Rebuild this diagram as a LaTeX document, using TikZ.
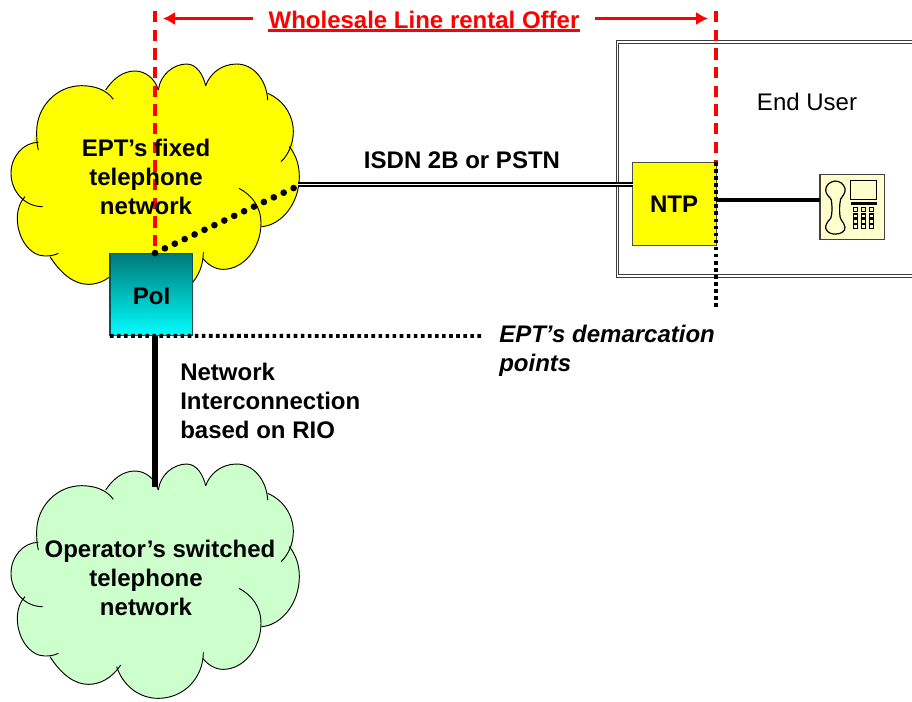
\documentclass[tikz,border=0pt]{standalone}
\usepackage{fontspec}
\setmainfont{Liberation Sans}
\usetikzlibrary{arrows.meta}
\tikzset{
  lbl/.style={font=\fontsize{18}{21.6}\selectfont\bfseries,align=center,inner sep=0pt,text=black},
  cloudline/.style={draw=black,line width=0.7pt,fill=none},
  reddash/.style={draw=red,line width=2.5pt,dash pattern=on 8.5pt off 5.5pt},
  redarrow/.style={draw=red,line width=2pt,-{Latex[length=9pt,width=10pt]}},
  blackdots/.style={draw=black,line width=2.9pt,dash pattern=on 2.7pt off 2.6pt},
  rounddots/.style={draw=black,line width=5pt,line cap=round,dash pattern=on 0pt off 8.2pt},
  keybtn/.style={draw=black,line width=.8pt,fill=phonebg},
}
\definecolor{cloudyellow}{RGB}{255,255,0}
\definecolor{cloudgreen}{RGB}{204,255,204}
\definecolor{phonebg}{RGB}{255,255,204}
\definecolor{poitop}{RGB}{0,120,120}
\definecolor{poibot}{RGB}{0,255,255}
\definecolor{boxline}{RGB}{60,60,60}
\newcommand{\cloudlobes}[1]{%
  \def\lobeA{(475,270) .. controls (480,225) and (520,192) .. (560,192) .. controls (590,192) and (610,225) .. (617,257)}%
  \def\lobeB{(617,257) .. controls (630,220) and (665,192) .. (710,192) .. controls (760,192) and (800,240) .. (803,300)}%
  \def\lobeC{(803,280) .. controls (850,300) and (880,345) .. (880,395) .. controls (880,430) and (865,465) .. (843,485)}%
  \def\lobeD{(868,440) .. controls (888,465) and (898,495) .. (898,530) .. controls (898,610) and (845,675) .. (785,680)}%
  \def\lobeE{(717,565) .. controls (755,585) and (783,620) .. (783,670) .. controls (783,745) and (730,808) .. (670,808) .. controls (645,808) and (625,795) .. (608,775)}%
  \def\lobeF{(610,757) .. controls (610,835) and (550,895) .. (475,895) .. controls (420,895) and (370,860) .. (350,800)}%
  \def\lobeG{(150,770) .. controls (185,825) and (225,853) .. (265,853) .. controls (300,853) and (335,835) .. (362,795)}%
  \def\lobeH{(175,760) .. controls (160,767) and (148,768) .. (135,768) .. controls (90,768) and (52,715) .. (52,655) .. controls (52,630) and (60,605) .. (75,590)}%
  \def\lobeI{(128,620) .. controls (75,620) and (33,575) .. (33,520) .. controls (33,470) and (70,427) .. (115,427)}%
  \def\lobeJ{(115,450) .. controls (110,430) and (110,410) .. (110,395) .. controls (110,320) and (170,257) .. (245,257) .. controls (285,257) and (320,270) .. (340,298)}%
  \def\lobeK{(317,270) .. controls (340,235) and (370,213) .. (405,213) .. controls (435,213) and (465,235) .. (475,270)}%
  \fill[#1] (475,270)--(617,257)--(803,290)--(875,395)--(888,530)--(785,680)--(717,690)--(610,770)--(350,800)--(150,770)--(60,650)--(80,592)--(55,520)--(112,395)--(245,270)--(317,270)--cycle;
  \foreach \lobe in {\lobeA,\lobeB,\lobeC,\lobeD,\lobeE,\lobeF,\lobeG,\lobeH,\lobeI,\lobeJ,\lobeK}{
    \fill[#1] \lobe -- cycle;
  }%
  \foreach \lobe in {\lobeA,\lobeB,\lobeC,\lobeD,\lobeE,\lobeF,\lobeG,\lobeH,\lobeI,\lobeJ,\lobeK}{
    \draw[cloudline] \lobe;
  }%
}
\begin{document}
\begin{tikzpicture}[x=0.75pt,y=-0.75pt]
\useasboundingbox (0,0) rectangle (912,701);
% clouds
\begin{scope}[x=0.25pt,y=-0.25pt]
  \cloudlobes{cloudyellow}
\end{scope}
\begin{scope}[x=0.25pt,y=-0.25pt,yshift=-300pt]
  \cloudlobes{cloudgreen}
\end{scope}
% end user box
\draw[draw=boxline,line width=0.7pt] (912,40)--(616,40)--(616,277)--(912,277);
\draw[draw=boxline,line width=0.7pt] (912,43)--(618.5,43)--(618.5,274.5)--(912,274.5);
% nodes
\node[draw=poitop!70!black,line width=.8pt,minimum width=62pt,minimum height=62pt,inner sep=0pt,outer sep=0pt,
  top color=poitop,bottom color=poibot,shading angle=0] (poi) at (151.3,294.5) {};
\node[lbl] (poitext) at (151.5,296) {PoI};
\node[draw=black!70,line width=.7pt,fill=cloudyellow,minimum width=62.6pt,minimum height=62.3pt,inner sep=0pt,outer sep=0pt] (ntp) at (674.3,203.5) {};
\node[lbl] (ntptext) at (674,204) {NTP};
\node[draw=black!75,line width=.8pt,fill=phonebg,minimum width=48.2pt,minimum height=48.2pt,inner sep=0pt,outer sep=0pt] (phone) at (852.1,207) {};
% phone glyph
\begin{scope}[x=0.25pt,y=-0.25pt,xshift=450pt]
  \draw[black,line width=.9pt] (705,543) .. controls (690,545) and (677,555) .. (677,570) .. controls (677,585) and (690,590) .. (694,600) .. controls (697,625) and (697,640) .. (692,655) .. controls (682,665) and (676,675) .. (677,685) .. controls (682,700) and (697,703) .. (708,702) .. controls (722,702) and (735,695) .. (735,682) .. controls (733,668) and (722,662) .. (720,650) .. controls (718,630) and (718,615) .. (722,597) .. controls (730,585) and (737,578) .. (735,565) .. controls (730,550) and (718,543) .. (705,543) -- cycle;
  \draw[black,line width=.9pt] (752,542) rectangle (829,598);
  \fill[black] (752,607) rectangle (830,615);
  \foreach \kx in {760,784,808}{
    \draw[keybtn] (\kx,622) rectangle ++(12,12);
    \draw[keybtn] (\kx,642) rectangle ++(12,12);
    \draw[keybtn] (\kx,658) rectangle ++(12,12);
    \draw[keybtn] (\kx,674) rectangle ++(12,12);
  }
\end{scope}
% coordinates
\coordinate (ldtop) at (155,11);
\coordinate (rdtop) at (716,11);
\coordinate (poitopc) at (155,253);
\coordinate (cloudexit) at (298,186);
\coordinate (dmv) at (716,310);
\coordinate (dmh) at (482,336);
\coordinate (poib) at (155,336);
\coordinate (opnet) at (155,487);
\coordinate (ntptop) at (716,162);
\coordinate (ntpr) at (716,200);
\coordinate (isdnl) at (298,184.5);
\coordinate (isdnr) at (632.5,184.5);
% connectors
\draw[reddash] (ldtop) -- (poitopc);
\draw[reddash] (rdtop) -- (ntptop);
\draw[rounddots] (poitopc) -- (cloudexit);
\draw[draw=black,line width=1.5pt,double=white,double distance=1.2pt] (isdnl) -- (isdnr);
\draw[draw=black,line width=2.4pt] (ntpr) -- (phone.west |- ntpr);
\draw[blackdots] (ntptop) -- (dmv);
\draw[blackdots] (poi.south west) -- (dmh);
\draw[draw=black,line width=4.8pt] (poib) -- (opnet);
% title
\node[lbl,text=red] (title) at (424,20) {Wholesale Line rental Offer};
\draw[draw=red,line width=2.4pt] (268,30.5) -- (580,30.5);
\coordinate (arrl) at (253,18.5);
\coordinate (arrr) at (595,18.5);
\coordinate (arrlt) at (163,18.5);
\coordinate (arrrt) at (708,18.5);
\draw[redarrow] (arrl) -- (arrlt);
\draw[redarrow] (arrr) -- (arrrt);
% labels
\node[lbl] (ept) at (146,177) {EPT’s fixed\\telephone\\network};
\node[lbl] (op) at (146,578) {\hspace*{21pt}Operator’s switched\\telephone\\network};
\node[lbl] (isdn) at (462,160) {ISDN 2B or PSTN};
\node[lbl,font=\fontsize{18}{21.6}\selectfont] (eu) at (807,102) {End User};
\node[lbl,anchor=west,align=left] (ni) at (180,401) {Network\\Interconnection\\based on RIO};
\node[lbl,anchor=west,align=left,font=\fontsize{18}{21.6}\selectfont\bfseries\itshape] (dem) at (499,350.5) {EPT’s demarcation\\points};
\end{tikzpicture}
\end{document}
